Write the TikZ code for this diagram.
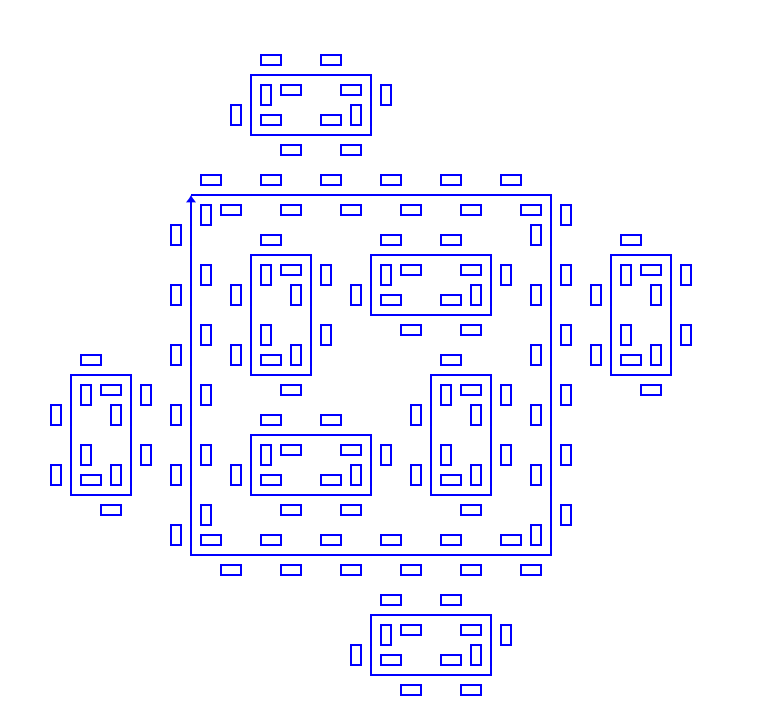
\documentclass[tikz,border=0pt]{standalone}
\usetikzlibrary{arrows.meta}

\begin{document}
\begin{tikzpicture}[x=0.3cm,y=0.3cm,>={Latex[length=2.2mm,width=3.2mm]},
    chair/.style={draw=blue, line width=2.5pt},
    table/.style={draw=blue, line width=2.5pt}]
    \useasboundingbox (-19.1,19.5) rectangle (56.8,-51.6);
    \draw[table,->] (0,0) -- (36,0) -- (36,-36) -- (0,-36) -- (0,0);
    \foreach \a/\b/\c/\d in {6/12/18/6, 6/-6/12/-18, 18/-6/30/-12, 6/-24/18/-30,
        24/-18/30/-30, -12/-18/-6/-30, 42/-6/48/-18, 18/-42/30/-48}
        \draw[table] (\a,\b) rectangle (\c,\d);
    \foreach \i/\j in {1/-3, 2/-3, 1/-2, 2/-2, 0/-1, 1/-1, 2/-1, 3/-1, 4/-1, 5/-1,
        1/0, 3/0, 4/0, 7/0, 3/1, 4/1, -2/2, 1/2, 4/2, 7/2, 1/3, 2/3,
        -2/4, 1/4, 2/4, 4/4, 0/5, 1/5, 2/5, 3/5, 4/5, 5/5, 3/6, 4/6, 3/7, 4/7}
    {
        \begin{scope}[shift={({6*\i},{-6*\j})}]
            \draw[chair] (1,-4) rectangle (3,-5);
            \draw[chair] (3,-7) rectangle (5,-8);
        \end{scope}
    }
    \foreach \i/\j in {1/-2, 3/-2, 0/0, 6/0, 0/1, 1/1, 2/1, 3/1, 5/1, 6/1, 7/1, 8/1,
        0/2, 1/2, 2/2, 6/2, 7/2, 8/2, -2/3, -1/3, 0/3, 4/3, 5/3, 6/3,
        -2/4, -1/4, 0/4, 1/4, 3/4, 4/4, 5/4, 6/4, 0/5, 6/5, 3/7, 5/7}
    {
        \begin{scope}[shift={({6*\i},{-6*\j})}]
            \draw[chair] (1,-1) rectangle (2,-3);
            \draw[chair] (-2,-3) rectangle (-1,-5);
        \end{scope}
    }
\end{tikzpicture}
\end{document}
